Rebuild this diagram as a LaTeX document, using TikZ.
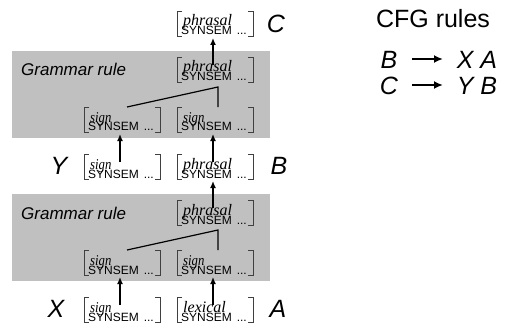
\documentclass[tikz,border=0pt]{standalone}
\usepackage{fontspec}
\usepackage{graphicx}
\setmainfont{Liberation Serif}
\setsansfont{Liberation Sans}
\usetikzlibrary{arrows.meta}
\definecolor{grammargray}{RGB}{192,192,192}
\tikzset{
  grbox/.style={fill=grammargray, draw=none},
  avm/.style={minimum width=76pt, minimum height=25pt, inner sep=0pt, outer sep=0pt, anchor=north west},
  brk/.style={line width=0.6pt, black!75},
  typetxt/.style={font=\fontsize{16}{16}\selectfont\itshape, inner sep=0pt, anchor=base west},
  syntxt/.style={font=\sffamily\fontsize{12}{12}\selectfont, inner sep=0pt, anchor=base west},
  dotstxt/.style={font=\sffamily\fontsize{12}{12}\selectfont, inner sep=0pt, anchor=base east},
  big/.style={font=\sffamily\itshape\fontsize{25}{25}\selectfont, inner sep=0pt},
  grtxt/.style={font=\sffamily\itshape\fontsize{17}{17}\selectfont, inner sep=0pt, anchor=base west},
  cfgtxt/.style={font=\sffamily\fontsize{25}{25}\selectfont, inner sep=0pt},
  upar/.style={-{Latex[length=7pt,width=6pt]}, line width=1.4pt},
  cfgar/.style={-{Latex[length=9pt,width=8pt]}, line width=1.8pt},
  tree/.style={line width=1.2pt},
}
\newcommand\signword{\scalebox{0.85}[1]{\fontsize{15}{15}\selectfont sign}}
\newcommand\avmbox[4]{%
  \node[avm] (#1) at (#2,#3) {};
  \draw[brk] ([xshift=5pt]#1.north west) -- (#1.north west) -- (#1.south west) -- ([xshift=5pt]#1.south west);
  \draw[brk] ([xshift=-5pt]#1.north east) -- (#1.north east) -- (#1.south east) -- ([xshift=-5pt]#1.south east);
  \node[typetxt] (#1t) at ([xshift=6pt,yshift=-15pt]#1.north west) {#4};
  \node[syntxt] (#1s) at ([xshift=4pt,yshift=-24pt]#1.north west) {SYNSEM};
  \node[dotstxt] (#1d) at ([xshift=-6pt,yshift=-24pt]#1.north east) {...};
}
\begin{document}
\begin{tikzpicture}[x=1pt,y=-1pt]
\useasboundingbox (0,0) rectangle (509,329);
% grammar rule boxes
\fill[grbox] (12,51) rectangle (270,138);
\fill[grbox] (12,194) rectangle (270,281);
\node[grtxt] (gr1) at (21,76) {Grammar rule};
\node[grtxt] (gr2) at (21,219) {Grammar rule};
% AVMs
\avmbox{c}{177}{11}{phrasal}
\avmbox{m1}{177}{57}{phrasal}
\avmbox{d1l}{84}{107}{\signword}
\avmbox{d1r}{177}{107}{\signword}
\avmbox{y}{84}{154}{\signword}
\avmbox{b}{177}{154}{phrasal}
\avmbox{m2}{177}{200}{phrasal}
\avmbox{d2l}{84}{250}{\signword}
\avmbox{d2r}{177}{250}{\signword}
\avmbox{x}{84}{297}{\signword}
\avmbox{a}{177}{297}{lexical}
% category labels
\node[big] (lc) at (276,24) {C};
\node[big] (lb) at (279,166) {B};
\node[big] (ly) at (59,166) {Y};
\node[big] (lx) at (56,309) {X};
\node[big] (la) at (278,309) {A};
% tree lines
\coordinate (t1) at (218,87);
\coordinate (t1l) at (127,107);
\coordinate (t1r) at (218,107);
\draw[tree] (t1l) -- (t1) -- (t1r);
\coordinate (t2) at (218,230);
\coordinate (t2l) at (127,250);
\coordinate (t2r) at (218,250);
\draw[tree] (t2l) -- (t2) -- (t2r);
% arrows
\draw[upar] ([xshift=36pt,yshift=-8pt]m1.north west) -- ([xshift=36pt,yshift=-2pt]c.south west);
\draw[upar] ([xshift=36pt,yshift=-8pt]y.north west) -- ([xshift=36pt,yshift=-2pt]d1l.south west);
\draw[upar] ([xshift=36pt,yshift=-8pt]b.north west) -- ([xshift=36pt,yshift=-2pt]d1r.south west);
\draw[upar] ([xshift=36pt,yshift=-8pt]m2.north west) -- ([xshift=36pt,yshift=-2pt]b.south west);
\draw[upar] ([xshift=36pt,yshift=-8pt]x.north west) -- ([xshift=36pt,yshift=-2pt]d2l.south west);
\draw[upar] ([xshift=36pt,yshift=-8pt]a.north west) -- ([xshift=36pt,yshift=-2pt]d2r.south west);
% CFG rules
\node[cfgtxt] (cfg) at (433,19) {CFG rules};
\node[big] (r1l) at (389,60) {B};
\coordinate (r1a) at (412,59);
\coordinate (r1b) at (443,59);
\draw[cfgar] (r1a) -- (r1b);
\node[big] (r1r) at (477,60) {X A};
\node[big] (r2l) at (389,86) {C};
\coordinate (r2a) at (412,85);
\coordinate (r2b) at (443,85);
\draw[cfgar] (r2a) -- (r2b);
\node[big] (r2r) at (477,86) {Y B};
\end{tikzpicture}
\end{document}
